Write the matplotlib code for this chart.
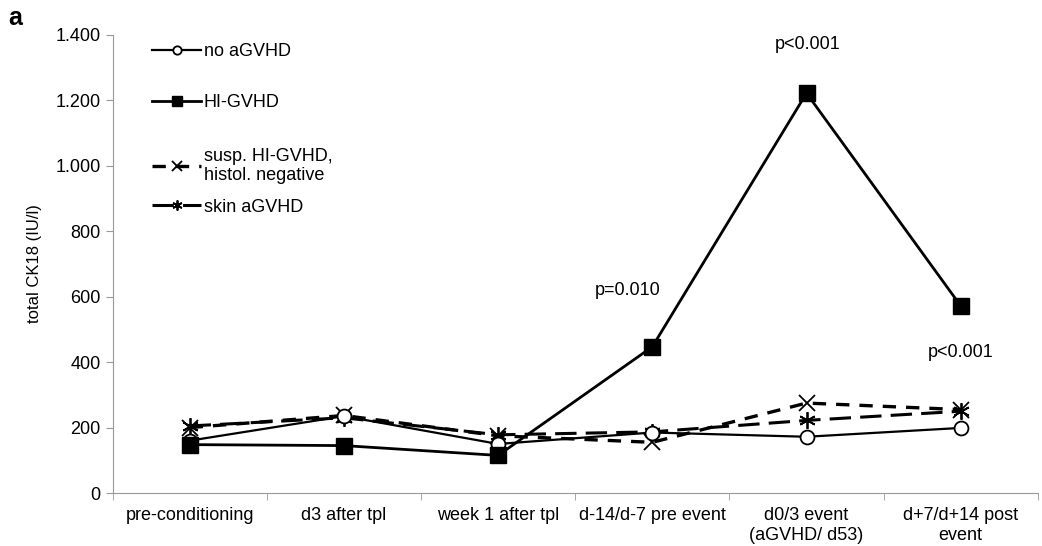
import matplotlib.pyplot as plt
import numpy as np
from matplotlib.ticker import FuncFormatter

plt.rcParams['font.family'] = ['Liberation Sans', 'DejaVu Sans']

# data
categories = ['pre-conditioning', 'd3 after tpl', 'week 1 after tpl',
              'd-14/d-7 pre event', 'd0/3 event\n(aGVHD/ d53)', 'd+7/d+14 post\nevent']
no_agvhd = [160, 235, 150, 185, 172, 199]
hi_gvhd = [148, 145, 115, 447, 1222, 572]
susp_hi = [200, 237, 175, 155, 275, 255]
skin_agvhd = [205, 230, 178, 187, 222, 250]

pvals = ['p=0.010', 'p<0.001', 'p<0.001']
pval_x = [2.84, 4.01, 5.0]
pval_y = [618, 1370, 428]

x = np.arange(len(categories))

fig = plt.figure(figsize=(10.42, 5.46), dpi=100)
ax = fig.add_axes([0.108, 0.097, 0.888, 0.839])

l1, = ax.plot(x, no_agvhd, color='black', lw=1.6, marker='o', ms=10,
              mfc='white', mec='black', mew=1.3, label='no aGVHD', zorder=4)
l2, = ax.plot(x, hi_gvhd, color='black', lw=2.0, marker='s', ms=12,
              mfc='black', mec='black', label='HI-GVHD', zorder=5)
l3, = ax.plot(x, susp_hi, color='black', lw=2.4, ls=(0, (4, 3)), marker='x', ms=11,
              mew=1.3, label='susp. HI-GVHD,\nhistol. negative', zorder=3)
l4, = ax.plot(x, skin_agvhd, color='black', lw=2.2, ls=(0, (7, 3)), marker=(6, 2, 0), ms=12,
              mew=1.3, label='skin aGVHD', zorder=3)

for t, px, py in zip(pvals, pval_x, pval_y):
    ax.text(px, py, t, ha='center', va='center', fontsize=13)

ax.set_xlim(-0.5, len(categories) - 0.5)
ax.set_ylim(0, 1400)
ax.set_yticks(np.arange(0, 1401, 200))
ax.yaxis.set_major_formatter(FuncFormatter(lambda v, p: f'{int(v):,}'.replace(',', '.')))
ax.set_xticks(x)
ax.set_xticklabels(categories, fontsize=13)
ax.set_xticks(np.arange(-0.5, len(categories)), minor=True)
ax.tick_params(axis='x', which='major', length=0, pad=10)
ax.tick_params(axis='x', which='minor', length=5, color='#999999')
ax.tick_params(axis='y', length=5, color='#999999', labelsize=13)
ax.set_ylabel('total CK18 (IU/l)', fontsize=12, labelpad=10)

for s in ['top', 'right']:
    ax.spines[s].set_visible(False)
for s in ['left', 'bottom']:
    ax.spines[s].set_color('#999999')

# legend split in two so the spacing follows the original
leg_kw = dict(frameon=False, fontsize=13, handlelength=2.7, handletextpad=0.15,
              markerscale=0.6, borderpad=0, borderaxespad=0, loc='center left')
leg1 = ax.legend(handles=[l1, l2], bbox_to_anchor=(0.043, 0.908), labelspacing=1.9, **leg_kw)
ax.add_artist(leg1)
ax.legend(handles=[l3, l4], bbox_to_anchor=(0.043, 0.680), labelspacing=0.8, **leg_kw)

fig.text(0.008, 0.955, 'a', fontsize=18, fontweight='bold')

fig.savefig('out.png', dpi=100)
